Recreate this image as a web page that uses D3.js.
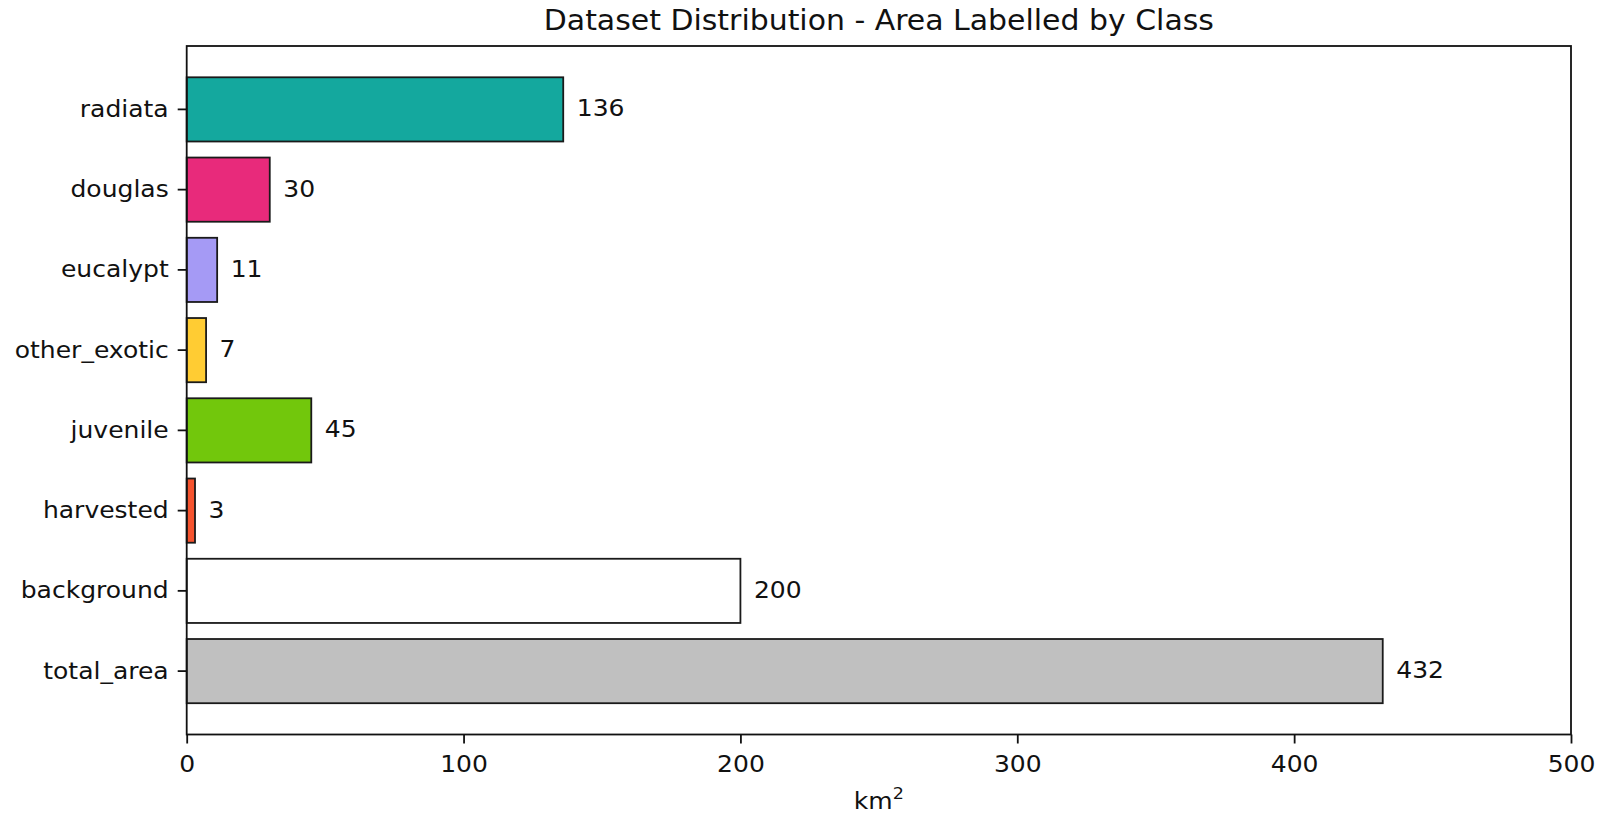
<!DOCTYPE html>
<html>
<head>
<meta charset="utf-8">
<script src="https://cdn.jsdelivr.net/npm/d3@7"></script>
<style>
  html, body { margin: 0; padding: 0; background: #fff; }
  svg { display: block; font-family: "DejaVu Sans", sans-serif; }
</style>
</head>
<body>
<svg id="chart" width="1618" height="814"></svg>
<script>
const categories = ["radiata", "douglas", "eucalypt", "other_exotic", "juvenile", "harvested", "background", "total_area"];
const areas = [136, 30, 11, 7, 45, 3, 200, 432];
const barColors = ["#14a89e", "#e82a7b", "#a59af5", "#ffcc33", "#72c70c", "#f5532e", "#ffffff", "#c0c0c0"];
const xTicks = [0, 100, 200, 300, 400, 500];
const titleText = "Dataset Distribution - Area Labelled by Class";

(function () {
const svg = d3.select("#chart");
const mLeft = 186.7, mRight = 1571, mTop = 46, mBottom = 734.5;
const sx = 1.065; // horizontal glyph stretch seen in the reference
const fs = 23.5;

const x = d3.scaleLinear().domain([0, 500]).range([mLeft, mRight]);
const y = d3.scaleBand().domain(categories).range([mTop, mBottom]).paddingInner(0.2).paddingOuter(0.39);

const data = categories.map((c, i) => ({ cat: c, v: areas[i], color: barColors[i] }));

// bars
svg.append("g").selectAll("rect").data(data).join("rect")
  .attr("x", x(0))
  .attr("y", d => y(d.cat))
  .attr("width", d => x(d.v) - x(0))
  .attr("height", y.bandwidth())
  .attr("fill", d => d.color)
  .attr("stroke", "#1a1a1a")
  .attr("stroke-width", 1.8);

// value labels
svg.append("g").selectAll("text").data(data).join("text")
  .attr("transform", d => `translate(${x(d.v) + 13.5},${y(d.cat) + y.bandwidth() / 2}) scale(${sx},1)`)
  .attr("dy", "0.30em")
  .attr("font-size", fs)
  .attr("fill", "#111")
  .text(d => d.v);

// axes
const xAxis = d3.axisBottom(x).tickValues(xTicks).tickSize(9).tickPadding(12).tickFormat(d3.format("d"));
const gx = svg.append("g").attr("transform", `translate(0,${mBottom})`).call(xAxis);
const yAxis = d3.axisLeft(y).tickSize(9).tickPadding(9);
const gy = svg.append("g").attr("transform", `translate(${mLeft},0)`).call(yAxis);

[gx, gy].forEach(g => {
  g.select(".domain").remove();
  g.selectAll(".tick line").attr("stroke", "#111").attr("stroke-width", 1.8);
  g.selectAll(".tick text").attr("font-size", fs).attr("fill", "#111").attr("font-family", "DejaVu Sans, sans-serif")
    .attr("transform", `scale(${sx},1)`);
});
gy.selectAll(".tick text").attr("x", -18 / sx);

// frame (spines)
svg.append("rect")
  .attr("x", mLeft).attr("y", mTop)
  .attr("width", mRight - mLeft).attr("height", mBottom - mTop)
  .attr("fill", "none").attr("stroke", "#111").attr("stroke-width", 1.8);

// title
svg.append("text")
  .attr("transform", `translate(${(mLeft + mRight) / 2},30) scale(${sx},1)`)
  .attr("text-anchor", "middle")
  .attr("font-size", 28.1)
  .attr("fill", "#111")
  .text(titleText);

// x label
const xl = svg.append("text")
  .attr("transform", `translate(${(mLeft + mRight) / 2},809) scale(${sx},1)`)
  .attr("text-anchor", "middle")
  .attr("font-size", fs)
  .attr("fill", "#111");
xl.append("tspan").text("km");
xl.append("tspan").attr("font-size", 16.5).attr("dy", "-0.6em").text("2");
})();
</script>
</body>
</html>
